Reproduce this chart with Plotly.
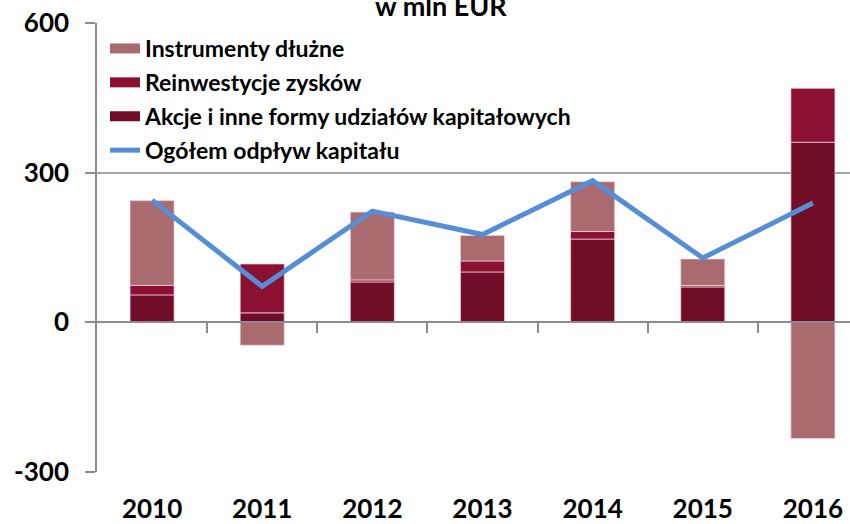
import plotly.graph_objects as go

years = ["2010", "2011", "2012", "2013", "2014", "2015", "2016"]
akcje = [55, 19, 81, 101, 167, 71, 361]
reinwestycje = [19, 98, 4, 22, 15, 3, 108]
instrumenty = [170, -46, 136, 51, 100, 53, -233]
ogolem = [245, 72, 223, 176, 284, 129, 239]

y_ticks = [-300, 0, 300, 600]
y_tick_text = ["-300", "0", "300", "600"]

FONT = "Lato"
C_INSTR = "#AA6B70"
C_REINW = "#8B1031"
C_AKCJE = "#720D28"
C_LINE = "#558ED5"
GRID = "#A6A6A6"
AXIS = "#8C8C8C"

N_INSTR = "Instrumenty dłużne"
N_REINW = "Reinwestycje zysków"
N_AKCJE = "Akcje i inne formy udziałów kapitałowych"
N_LINE = "Ogółem odpływ kapitału"

x = list(range(len(years)))
edge = dict(color="rgba(240,215,220,0.9)", width=0.8)

fig = go.Figure()
fig.add_trace(go.Bar(x=x, y=akcje, name=N_AKCJE, marker=dict(color=C_AKCJE, line=edge),
                     showlegend=False))
fig.add_trace(go.Bar(x=x, y=reinwestycje, name=N_REINW, marker=dict(color=C_REINW, line=edge),
                     showlegend=False))
fig.add_trace(go.Bar(x=x, y=instrumenty, name=N_INSTR, marker=dict(color=C_INSTR, line=edge),
                     showlegend=False))
fig.add_trace(go.Scatter(x=x, y=ogolem, name="<b>" + N_LINE + "</b>", mode="lines",
                         line=dict(color=C_LINE, width=5), legendgroup="d", legendrank=4))

# legend swatches (wide blocks like the original legend)
for name, col, grp, rank in [(N_INSTR, C_INSTR, "a", 1), (N_REINW, C_REINW, "b", 2),
                             (N_AKCJE, C_AKCJE, "c", 3)]:
    fig.add_trace(go.Scatter(x=[None], y=[None], mode="lines", name="<b>" + name + "</b>",
                             line=dict(color=col, width=15), legendgroup=grp,
                             legendrank=rank, hoverinfo="skip"))

# invisible trace to anchor the zero-level axis
fig.add_trace(go.Scatter(x=x, y=[0] * len(x), xaxis="x2", mode="lines",
                         line=dict(width=0), showlegend=False, hoverinfo="skip"))

n = len(years)
plot_top, plot_bot = 23, 472
ph = plot_bot - plot_top
zero_pos = (plot_bot - 322) / ph

fig.update_layout(
    template="none",
    width=850, height=524,
    margin=dict(l=97, r=0, t=plot_top, b=524 - plot_bot, autoexpand=False),
    paper_bgcolor="white", plot_bgcolor="white",
    barmode="relative", bargap=0.6,
    font=dict(family=FONT, size=26, color="black"),
    showlegend=True,
    legend=dict(x=(105 - 97) / 753, y=(plot_bot - 27) / ph, xanchor="left", yanchor="top",
                traceorder="grouped", tracegroupgap=1,
                font=dict(family=FONT, size=23, color="black"),
                bgcolor="rgba(0,0,0,0)", itemwidth=30),
    xaxis=dict(range=[-0.5, n - 0.5 - 18 / 110.2], tickvals=x, ticktext=years,
               automargin=False,
               showline=False, showgrid=False, ticks="", zeroline=False,
               tickfont=dict(family=FONT, size=26, color="black", weight="bold"),
               ticklabelstandoff=19),
    xaxis2=dict(matches="x", overlaying="x", anchor="free", position=zero_pos,
                automargin=False,
                showline=True, linecolor=AXIS, linewidth=1.5,
                tickvals=[i + 0.5 for i in range(n - 1)], showticklabels=False,
                ticks="outside", ticklen=10, tickcolor=AXIS, tickwidth=1.5,
                showgrid=False, zeroline=False),
    yaxis=dict(range=[-300, 600], tickvals=y_ticks, ticktext=y_tick_text,
               automargin=False,
               showgrid=True, gridcolor=GRID,
               gridwidth=1.5, zeroline=False, showline=True, linecolor=AXIS,
               linewidth=1.5, ticks="outside", ticklen=10, tickcolor=AXIS,
               tickwidth=1.5, ticklabelstandoff=11,
               tickfont=dict(family=FONT, size=26, color="black", weight="bold")),
)

fig.add_annotation(text="<b>w mln EUR</b>", xref="paper", yref="paper",
                   x=(441 - 97) / 753, y=(plot_bot - 24) / ph,
                   xanchor="center", yanchor="bottom", showarrow=False,
                   font=dict(family=FONT, size=27, color="black"))

fig.write_html("out.html", config={"displayModeBar": False},
               post_script="document.body.style.margin='0';")
